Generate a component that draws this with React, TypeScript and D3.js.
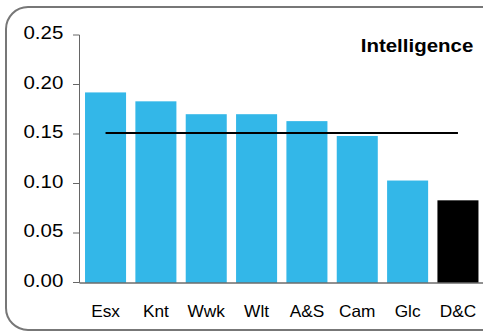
import React from "react";
import * as d3 from "d3";

const categories = ["Esx", "Knt", "Wwk", "Wlt", "A&S", "Cam", "Glc", "D&C"];
const values = [0.192, 0.183, 0.17, 0.17, 0.163, 0.148, 0.103, 0.083];
const highlight = ["D&C"];
const refValue = 0.151;
const yTicks = [0, 0.05, 0.1, 0.15, 0.2, 0.25];
const title = "Intelligence";

const font = "Liberation Sans, Arial, sans-serif";

function T(props: { x: number; y: number; sx: number; size: number; anchor: string; bold?: boolean; children: any }) {
  return (
    <g transform={`translate(${props.x},${props.y}) scale(${props.sx},1)`}>
      <text x={0} y={0} textAnchor={props.anchor} fontFamily={font} fontSize={props.size}
        fontWeight={props.bold ? "bold" : "normal"} fill="#000">
        {props.children}
      </text>
    </g>
  );
}

export default function App() {
  const W = 483, H = 333;
  const x = d3.scaleBand<string>().domain(categories).range([80.5, 483]).paddingInner(0.185).paddingOuter(0.09);
  const y = d3.scaleLinear().domain([0, 0.25]).range([282.5, 35]);
  const first = x(categories[0])! + x.bandwidth() / 2;
  const last = x(categories[categories.length - 1])! + x.bandwidth() / 2;
  return (
    <svg width={W} height={H} style={{ position: "absolute", left: 0, top: 0 }}>
      <rect x={0} y={0} width={W} height={H} fill="#fff" />
      <rect x={6} y={7} width={W + 20} height={323} rx={22} ry={22} fill="none" stroke="#777" strokeWidth={2} />
      {categories.map((c, i) => (
        <rect key={c} x={x(c)} y={y(values[i])} width={x.bandwidth()} height={y(0) - y(values[i])}
          fill={highlight.includes(c) ? "#000" : "#33b7e8"} />
      ))}
      <line x1={first} x2={last} y1={y(refValue)} y2={y(refValue)} stroke="#000" strokeWidth={2} />
      <line x1={79.5} x2={79.5} y1={y(0.25)} y2={y(0)} stroke="#666" strokeWidth={1} />
      {yTicks.map((t) => (
        <g key={t}>
          <line x1={73} x2={79.5} y1={y(t)} y2={y(t)} stroke="#666" />
          <T x={63.3} y={y(t) + 4.4} sx={1.1} size={18.6} anchor="end">{t.toFixed(2)}</T>
        </g>
      ))}
      <line x1={79.5} x2={W} y1={y(0) + 0.5} y2={y(0) + 0.5} stroke="#222" strokeWidth={1} />
      {categories.map((c) => (
        <T key={c} x={x(c)! + x.bandwidth() / 2} y={316.7} sx={1.06} size={16.3} anchor="middle">{c}</T>
      ))}
      <T x={473.3} y={51.7} sx={1.17} size={17.5} anchor="end" bold>{title}</T>
    </svg>
  );
}
